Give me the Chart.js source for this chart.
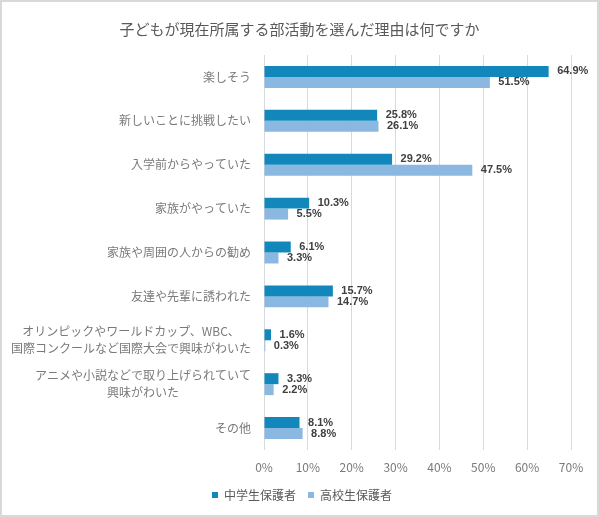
<!DOCTYPE html>
<html><head><meta charset="utf-8">
<script src="https://cdn.jsdelivr.net/npm/chart.js@4"></script>
<style>html,body{margin:0;padding:0;background:#fff}#wrap{width:599px;height:517px;position:relative}</style>
</head><body><div id="wrap"><canvas id="c" width="599" height="517"></canvas></div>
<script>
const titleText = '子どもが現在所属する部活動を選んだ理由は何ですか';
const categories = [
  ['楽しそう'],
  ['新しいことに挑戦したい'],
  ['入学前からやっていた'],
  ['家族がやっていた'],
  ['家族や周囲の人からの勧め'],
  ['友達や先輩に誘われた'],
  ['オリンピックやワールドカップ、WBC、', '国際コンクールなど国際大会で興味がわいた'],
  ['アニメや小説などで取り上げられていて', '興味がわいた'],
  ['その他']
];
const seriesNames = ['中学生保護者', '高校生保護者'];
const juniorHigh = [64.9, 25.8, 29.2, 10.3, 6.1, 15.7, 1.6, 3.3, 8.1];
const highSchool = [51.5, 26.1, 47.5, 5.5, 3.3, 14.7, 0.3, 2.2, 8.8];
const xTickValues = [0, 10, 20, 30, 40, 50, 60, 70];

const JP = '"Noto Sans CJK JP", "Noto Sans", sans-serif';

const framePlugin = {
  id: 'frame',
  beforeDraw(chart) {
    const ctx = chart.ctx;
    ctx.save();
    ctx.fillStyle = '#fff';
    ctx.fillRect(0, 0, chart.width, chart.height);
    ctx.strokeStyle = '#d9d9d9';
    ctx.lineWidth = 2;
    ctx.strokeRect(1, 1, chart.width - 2, chart.height - 2);
    ctx.restore();
  },
  afterLayout(chart) {
    if (chart.titleBlock) {
      chart.titleBlock.left = 0; chart.titleBlock.right = chart.width; chart.titleBlock.width = chart.width;
    }
    if (chart.legend) {
      chart.legend.left = 5; chart.legend.right = chart.width; chart.legend.width = chart.width - 5;
    }
  }
};

const catLabelPlugin = {
  id: 'catLabels',
  afterDraw(chart) {
    const ctx = chart.ctx;
    const ys = chart.scales.y;
    const right = chart.chartArea.left - 13;
    const lh = 17;
    ctx.save();
    ctx.font = '12px ' + JP;
    ctx.fillStyle = '#7a7a7a';
    ctx.textAlign = 'center';
    ctx.textBaseline = 'middle';
    categories.forEach((lines, i) => {
      const y = ys.getPixelForValue(i);
      const w = Math.max(...lines.map(l => ctx.measureText(l).width));
      const cx = right - w / 2;
      lines.forEach((l, j) => {
        ctx.fillText(l, cx, y + (j - (lines.length - 1) / 2) * lh);
      });
    });
    ctx.restore();
  }
};

const valueLabelPlugin = {
  id: 'valueLabels',
  afterDatasetsDraw(chart) {
    const ctx = chart.ctx;
    ctx.save();
    ctx.font = 'bold 11px "Liberation Sans", Arial, sans-serif';
    ctx.fillStyle = '#404040';
    ctx.textAlign = 'left';
    ctx.textBaseline = 'middle';
    chart.data.datasets.forEach((ds, di) => {
      const meta = chart.getDatasetMeta(di);
      meta.data.forEach((bar, i) => {
        ctx.fillText(ds.data[i].toFixed(1) + '%', bar.x + 8.5, bar.y);
      });
    });
    ctx.restore();
  }
};

new Chart(document.getElementById('c'), {
  type: 'bar',
  data: {
    labels: categories,
    datasets: [
      { label: seriesNames[0], data: juniorHigh, backgroundColor: '#1287bc', categoryPercentage: 0.5, barPercentage: 1.0 },
      { label: seriesNames[1], data: highSchool, backgroundColor: '#8bb8e0', categoryPercentage: 0.5, barPercentage: 1.0 }
    ]
  },
  options: {
    indexAxis: 'y',
    responsive: false,
    animation: false,
    devicePixelRatio: 1,
    layout: { padding: { left: 0, right: 28, top: 0, bottom: 6 } },
    scales: {
      x: {
        min: 0, max: 70,
        afterBuildTicks: s => { s.ticks = xTickValues.map(v => ({ value: v })); },
        ticks: { callback: v => v + '%', color: '#7a7a7a', font: { family: JP, size: 12 }, padding: 10, maxRotation: 0 },
        grid: { color: '#d9d9d9', drawTicks: false, lineWidth: 1 },
        border: { display: false },
        afterFit: s => { s.height = 27; }
      },
      y: {
        grid: { display: false },
        ticks: { display: false },
        border: { display: false },
        afterFit: s => { s.width = 264; }
      }
    },
    plugins: {
      title: {
        display: true, text: titleText, color: '#595959',
        font: { family: JP, size: 15, weight: 'normal' },
        padding: { top: 20, bottom: 17 }
      },
      legend: {
        position: 'bottom',
        labels: { boxWidth: 6, boxHeight: 6, color: '#595959', font: { family: JP, size: 12 }, padding: 12 }
      },
      tooltip: { enabled: false }
    }
  },
  plugins: [framePlugin, catLabelPlugin, valueLabelPlugin]
});
</script></body></html>
